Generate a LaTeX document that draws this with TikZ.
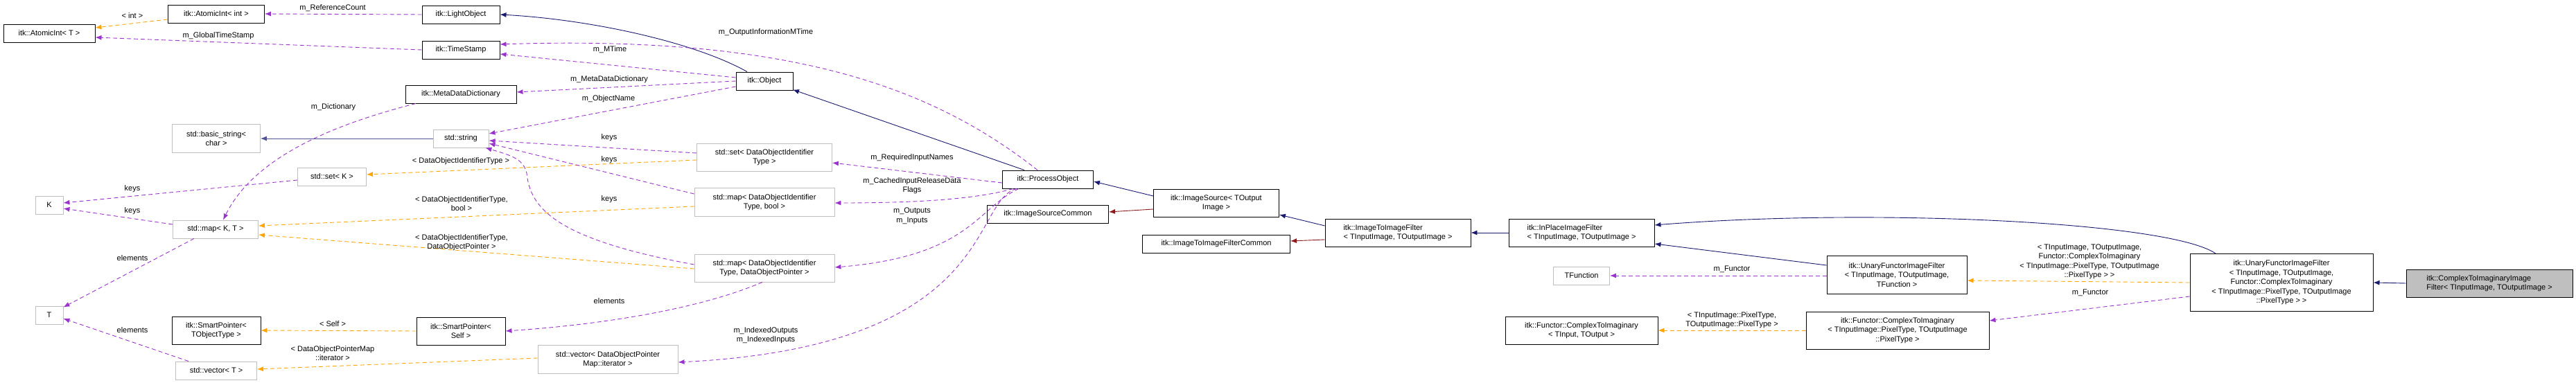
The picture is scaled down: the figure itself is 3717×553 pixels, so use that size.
\documentclass[tikz,border=0pt]{standalone}
\usepackage{fontspec}
\setmainfont{Liberation Sans}
\usetikzlibrary{arrows.meta}
\begin{document}
\begin{tikzpicture}[x=1pt,y=-1pt,
  every node/.style={font=\fontsize{11}{13.5}\selectfont},
  box/.style={draw=black,line width=0.9pt,fill=white,inner sep=2pt,align=center},
  gbox/.style={box,draw=black!25},
  lbox/.style={box,align=left},
  lab/.style={align=center,inner sep=0pt},
  tip/.style={-{Latex[length=9pt,width=7pt]}},
  inh/.style={tip,draw=navy,line width=0.9pt},
  red/.style={tip,draw=dred,line width=0.9pt},
  use/.style={tip,draw=purp,line width=0.9pt,dash pattern=on 6pt off 4pt},
  tpl/.style={tip,draw=orng,line width=0.9pt,dash pattern=on 6pt off 4pt}]
\definecolor{navy}{RGB}{25,25,112}
\definecolor{dred}{RGB}{139,26,26}
\definecolor{purp}{RGB}{154,50,205}
\definecolor{orng}{RGB}{255,165,0}
\useasboundingbox (0,0) rectangle (3717,553);
% nodes
\node[box,minimum width=132pt,minimum height=26pt] (atT) at (71,48) {itk::AtomicInt\textless{} T \textgreater};
\node[box,minimum width=139pt,minimum height=26pt] (ati) at (312,20) {itk::AtomicInt\textless{} int \textgreater};
\node[gbox,minimum width=127pt,minimum height=41pt] (bstr) at (312,200) {std::basic\_string\textless\\char \textgreater};
\node[gbox,minimum width=99pt,minimum height=26pt] (setK) at (479,255) {std::set\textless{} K \textgreater};
\node[gbox,minimum width=40pt,minimum height=26pt] (K) at (71,296) {K};
\node[gbox,minimum width=123pt,minimum height=26pt] (mapKT) at (311,331) {std::map\textless{} K, T \textgreater};
\node[gbox,minimum width=40pt,minimum height=26pt] (T) at (71,455) {T};
\node[box,minimum width=128pt,minimum height=40pt] (spT) at (312,477) {itk::SmartPointer\textless\\TObjectType \textgreater};
\node[gbox,minimum width=117pt,minimum height=26pt] (vecT) at (312,535) {std::vector\textless{} T \textgreater};
\node[box,minimum width=112pt,minimum height=26pt] (light) at (665,21) {itk::LightObject};
\node[box,minimum width=112pt,minimum height=26pt] (ts) at (665,72) {itk::TimeStamp};
\node[box,minimum width=160pt,minimum height=26pt] (mdd) at (665,136) {itk::MetaDataDictionary};
\node[gbox,minimum width=80pt,minimum height=26pt] (str) at (665,200) {std::string};
\node[gbox,minimum width=195pt,minimum height=40pt] (setD) at (1103,227) {std::set\textless{} DataObjectIdentifier\\Type \textgreater};
\node[gbox,minimum width=202pt,minimum height=41pt] (mapB) at (1103,292) {std::map\textless{} DataObjectIdentifier\\Type, bool \textgreater};
\node[gbox,minimum width=202pt,minimum height=40pt] (mapP) at (1103,387) {std::map\textless{} DataObjectIdentifier\\Type, DataObjectPointer \textgreater};
\node[box,minimum width=128pt,minimum height=40pt] (spS) at (665,478) {itk::SmartPointer\textless\\Self \textgreater};
\node[gbox,minimum width=202pt,minimum height=41pt] (vecP) at (877,519) {std::vector\textless{} DataObjectPointer\\Map::iterator \textgreater};
\node[box,minimum width=82pt,minimum height=26pt] (obj) at (1103,117) {itk::Object};
\node[box,minimum width=131pt,minimum height=26pt] (po) at (1512,259) {itk::ProcessObject};
\node[box,minimum width=175pt,minimum height=26pt] (isc) at (1512,309) {itk::ImageSourceCommon};
\node[box,minimum width=181pt,minimum height=40pt] (is) at (1755,293) {itk::ImageSource\textless{} TOutput\\Image \textgreater};
\node[box,minimum width=213pt,minimum height=26pt] (itifc) at (1755,352) {itk::ImageToImageFilterCommon};
\node[lbox,minimum width=210pt,minimum height=40pt] (itif) at (2017,336) {itk::ImageToImageFilter\\\textless{} TInputImage, TOutputImage \textgreater};
\node[lbox,minimum width=210pt,minimum height=40pt] (ipf) at (2282,336) {itk::InPlaceImageFilter\\\textless{} TInputImage, TOutputImage \textgreater};
\node[gbox,minimum width=81pt,minimum height=26pt] (tf) at (2282,398) {TFunction};
\node[box,minimum width=202pt,minimum height=55pt] (uf) at (2737,397) {itk::UnaryFunctorImageFilter\\\textless{} TInputImage, TOutputImage,\\TFunction \textgreater};
\node[box,minimum width=220pt,minimum height=40pt] (fti) at (2282,477) {itk::Functor::ComplexToImaginary\\\textless{} TInput, TOutput \textgreater};
\node[box,minimum width=264pt,minimum height=54pt] (ftp) at (2738,477) {itk::Functor::ComplexToImaginary\\\textless{} TInputImage::PixelType, TOutputImage\\::PixelType \textgreater};
\node[box,minimum width=264pt,minimum height=83pt] (buf) at (3292,408) {itk::UnaryFunctorImageFilter\\\textless{} TInputImage, TOutputImage,\\Functor::ComplexToImaginary\\\textless{} TInputImage::PixelType, TOutputImage\\::PixelType \textgreater{} \textgreater};
\node[lbox,fill=black!25,minimum width=240pt,minimum height=40pt] (cti) at (3592,409) {itk::ComplexToImaginaryImage\\Filter\textless{} TInputImage, TOutputImage \textgreater};
% edges
\draw[tpl] ([yshift=-8pt]ati.west) -- ([yshift=8pt]atT.east);
\draw[use] (light.west) -- (ati.east);
\draw[use] (ts.west) -- ([yshift=-6pt]atT.east);
\draw[inh] ([xshift=-25pt]obj.north) .. controls (1000,60) and (850,28) .. (light.east);
\draw[inh] ([xshift=-34pt]po.north) -- ([xshift=41pt,yshift=1pt]obj.south);
\draw[use] ([xshift=-15pt]po.north) .. controls (1350,130) and (1150,50) .. ([yshift=8pt]ts.east);
\draw[use] ([yshift=5pt]obj.west) -- ([yshift=-6pt]ts.east);
\draw[use] (obj.west) -- ([yshift=3pt]mdd.east);
\draw[use] ([yshift=-8pt]obj.west) -- ([yshift=7pt]str.east);
\draw[use] ([xshift=-65pt]mdd.south) .. controls (500,175) and (370,220) .. ([xshift=11pt]mapKT.north);
\draw[inh,draw=navy!75] (str.west) -- (bstr.east);
\draw[use] ([yshift=-5pt]setK.west) -- ([yshift=3pt]K.east);
\draw[use] ([yshift=7pt]mapKT.west) -- ([yshift=-5pt]K.east);
\draw[use] ([xshift=-31pt]mapKT.south) -- ([yshift=-2pt]T.north east);
\draw[use] ([xshift=-40pt]vecT.north) -- ([yshift=-5pt]T.east);
\draw[use] ([yshift=6pt]setD.west) -- ([yshift=-3pt]str.east);
\draw[tpl] ([yshift=-4pt]setD.west) -- ([yshift=3pt]setK.east);
\draw[use] ([yshift=12pt]mapB.west) -- ([yshift=-7pt]str.east);
\draw[tpl] ([yshift=-6pt]mapB.west) -- ([yshift=5pt]mapKT.east);
\draw[use] ([yshift=5pt]mapP.west) .. controls (800,345) and (765,300) .. (760,250) .. controls (755,230) and (740,225) .. ([xshift=-5pt]str.south east);
\draw[tpl] ([yshift=-1pt]mapP.west) -- ([yshift=-8pt]mapKT.east);
\draw[use] ([yshift=-5pt]po.west) -- ([yshift=-8pt]setD.east);
\draw[use] ([xshift=-50pt]po.south) .. controls (1400,290) and (1300,293) .. ([yshift=-1pt]mapB.east);
\draw[use] ([xshift=-42pt]po.south) .. controls (1410,300) and (1400,370) .. ([yshift=1pt]mapP.east);
\draw[use] ([xshift=-45pt]po.south) .. controls (1400,290) and (1440,500) .. ([yshift=-4pt]vecP.east);
\draw[use] ([xshift=-3pt]mapP.south) .. controls (1000,450) and (850,470) .. (spS.east);
\draw[tpl] (spS.west) -- (spT.east);
\draw[tpl] ([yshift=2pt]vecP.west) -- ([yshift=2pt]vecT.east);
\draw[inh] ([yshift=10pt]is.west) -- ([yshift=-3pt]po.east);
\draw[red] ([yshift=-9pt]is.west) -- ([yshift=3pt]isc.east);
\draw[inh] ([yshift=10pt]itif.west) -- ([yshift=-17pt]is.east);
\draw[red] ([yshift=-10pt]itif.west) -- ([yshift=4pt]itifc.east);
\draw[inh] (ipf.west) -- (itif.east);
\draw[inh] ([yshift=14pt]uf.west) -- ([yshift=-16pt]ipf.east);
\draw[inh] ([xshift=-95pt]buf.north) .. controls (3130,320) and (2700,300) .. ([yshift=11pt]ipf.east);
\draw[use] ([yshift=-1pt]uf.west) -- (tf.east);
\draw[tpl] ([yshift=0pt]buf.west) -- ([yshift=-8pt]uf.east);
\draw[use] ([yshift=-20pt]buf.west) -- ([yshift=14pt]ftp.east);
\draw[tpl] (ftp.west) -- (fti.east);
\draw[inh] (cti.west) -- (buf.east);
% labels
\node[lab] at (191,23) {\textless{} int \textgreater};
\node[lab] at (480,12) {m\_ReferenceCount};
\node[lab] at (315,52) {m\_GlobalTimeStamp};
\node[lab] at (481,155) {m\_Dictionary};
\node[lab] at (191,273) {keys};
\node[lab] at (191,305) {keys};
\node[lab] at (191,373) {elements};
\node[lab] at (191,477) {elements};
\node[lab] at (480,468) {\textless{} Self \textgreater};
\node[lab] at (480,510) {\textless{} DataObjectPointerMap\\::iterator \textgreater};
\node[lab] at (1105,47) {m\_OutputInformationMTime};
\node[lab] at (880,72) {m\_MTime};
\node[lab] at (879,115) {m\_MetaDataDictionary};
\node[lab] at (878,143) {m\_ObjectName};
\node[lab] at (879,199) {keys};
\node[lab] at (879,231) {keys};
\node[lab] at (879,288) {keys};
\node[lab] at (665,233) {\textless{} DataObjectIdentifierType \textgreater};
\node[lab] at (666,294) {\textless{} DataObjectIdentifierType,\\bool \textgreater};
\node[lab] at (666,350) {\textless{} DataObjectIdentifierType,\\DataObjectPointer \textgreater};
\node[lab] at (879,435) {elements};
\node[lab] at (1105,484) {m\_IndexedOutputs\\m\_IndexedInputs};
\node[lab] at (1316,228) {m\_RequiredInputNames};
\node[lab] at (1316,268) {m\_CachedInputReleaseData\\Flags};
\node[lab] at (1316,312) {m\_Outputs\\m\_Inputs};
\node[lab] at (2499,389) {m\_Functor};
\node[lab] at (2499,462) {\textless{} TInputImage::PixelType,\\TOutputImage::PixelType \textgreater};
\node[lab] at (3015,378) {\textless{} TInputImage, TOutputImage,\\Functor::ComplexToImaginary\\\textless{} TInputImage::PixelType, TOutputImage\\::PixelType \textgreater{} \textgreater};
\node[lab] at (3016,423) {m\_Functor};
\end{tikzpicture}
\end{document}
